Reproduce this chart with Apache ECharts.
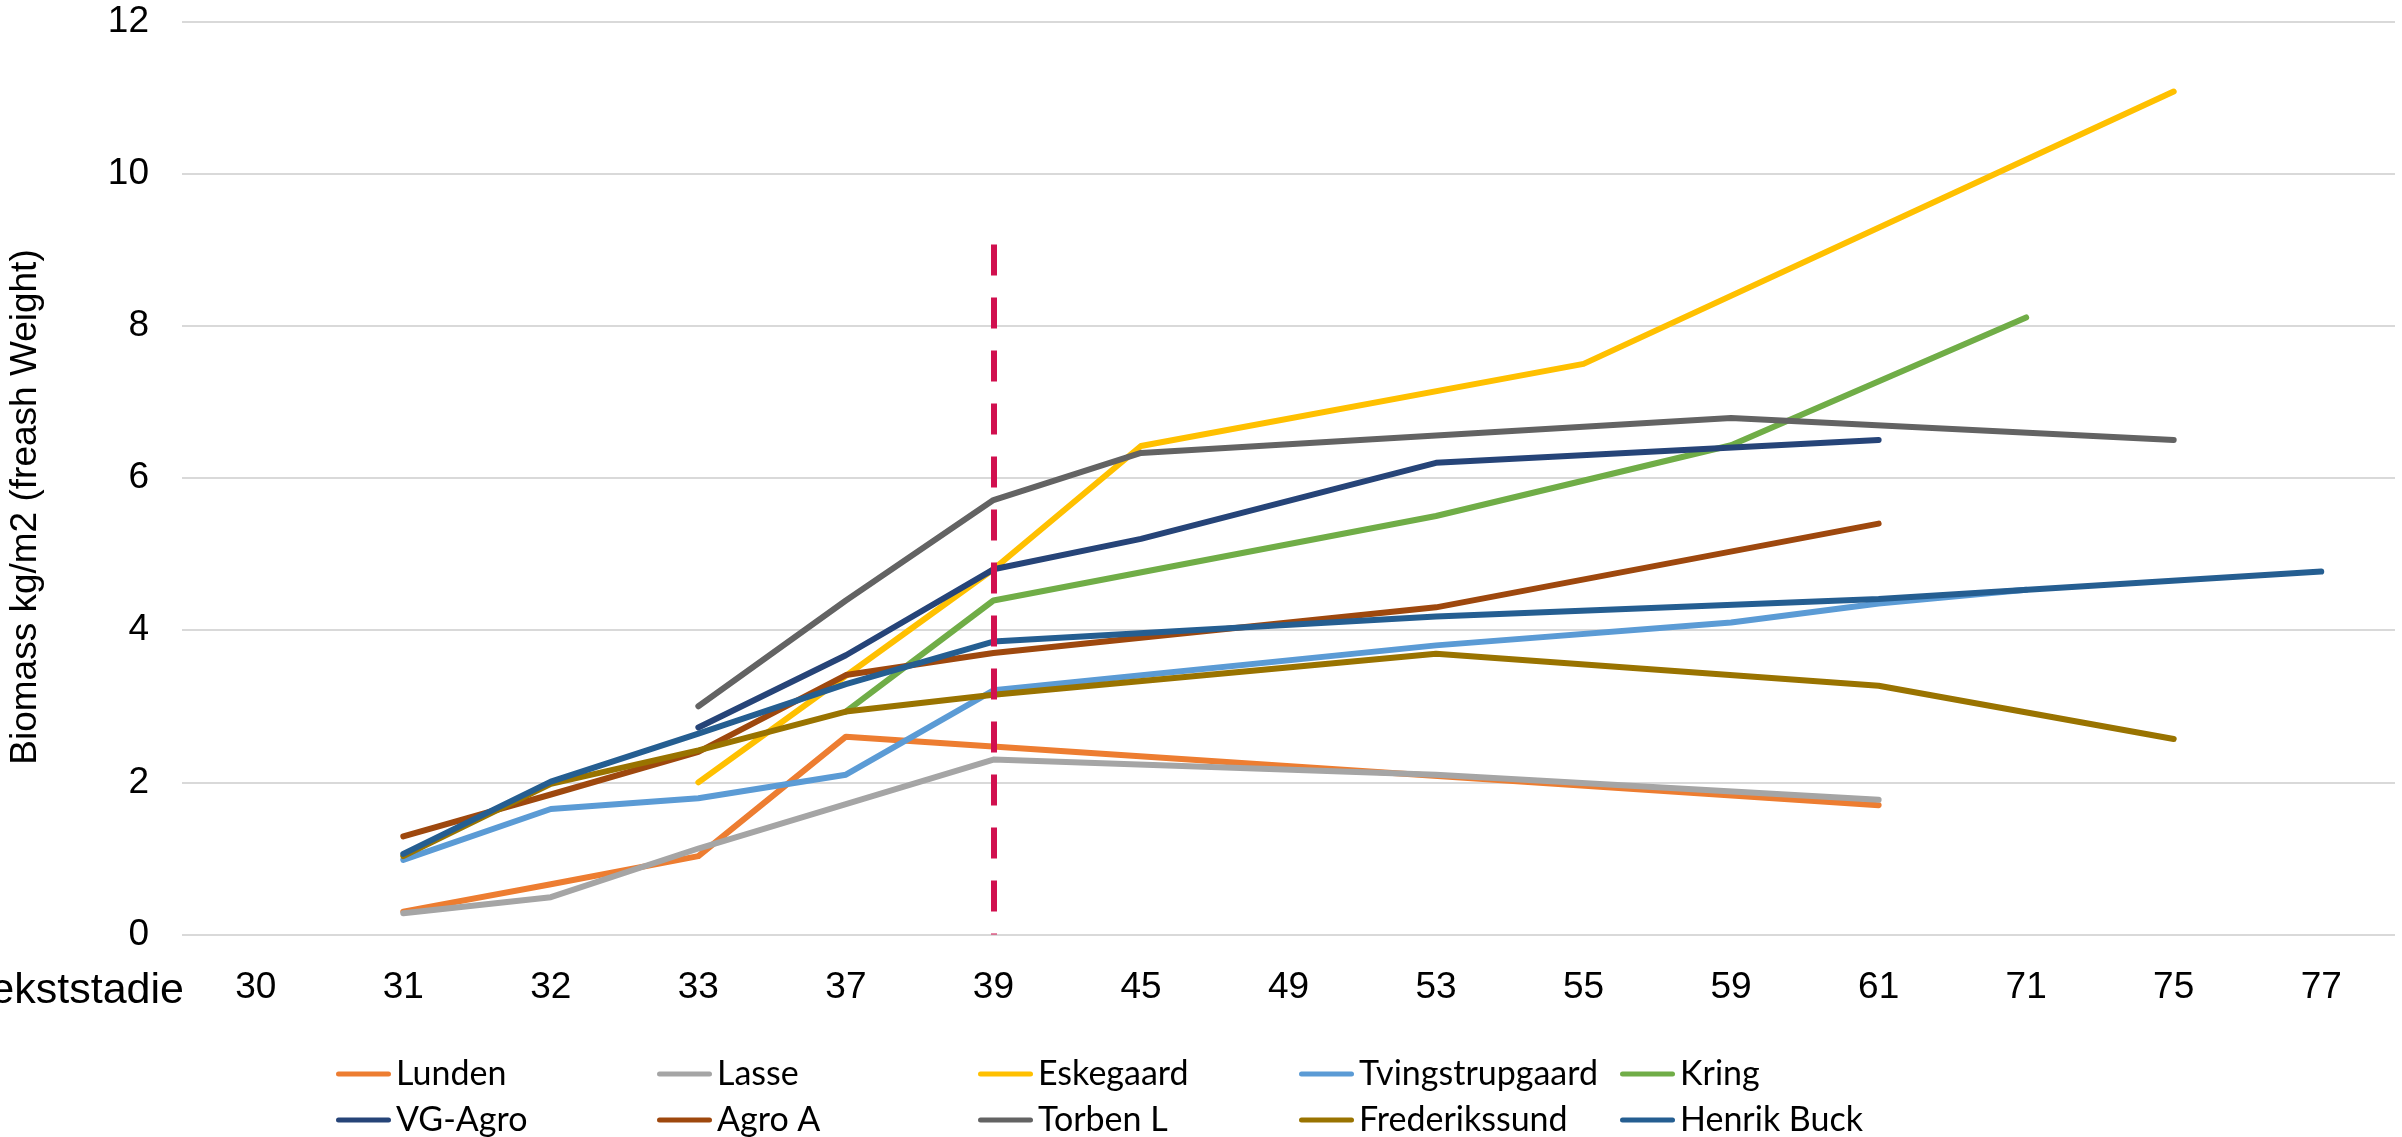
<!DOCTYPE html>
<html>
<head>
<meta charset="utf-8">
<script src="https://cdn.jsdelivr.net/npm/echarts@6/dist/echarts.min.js"></script>
<style>
html,body{margin:0;padding:0;background:#ffffff;}
#chart{width:2402px;height:1137px;}
</style>
</head>
<body>
<div id="chart"></div>
<script>
// ---- data ----
const stages = ['30','31','32','33','37','39','45','49','53','55','59','61','71','75','77'];
const yMin = 0, yMax = 12, yStep = 2;

const lunden          = [null,0.30,0.66,1.03,2.60,null,null,null,null,null,null,1.70,null,null,null];
const lasse           = [null,0.28,0.49,1.13,null,2.30,null,null,2.10,null,null,1.77,null,null,null];
const eskegaard       = [null,null,null,2.00,null,4.80,6.42,null,null,7.50,null,null,null,11.08,null];
const tvingstrupgaard = [null,0.98,1.65,1.79,2.10,3.21,null,null,3.80,null,4.10,4.35,4.53,null,null];
const kring           = [null,null,null,null,2.93,4.39,null,null,5.50,null,6.43,null,8.11,null,null];
const vgAgro          = [null,null,null,2.72,3.67,4.80,5.20,null,6.20,null,null,6.50,null,null,null];
const agroA           = [null,1.29,1.84,2.40,3.41,3.70,null,null,4.30,null,null,5.40,null,null,null];
const torbenL         = [null,null,null,3.00,4.39,5.71,6.33,null,null,null,6.79,null,null,6.50,null];
const frederikssund   = [null,1.03,1.98,2.42,2.93,3.15,null,null,3.69,null,null,3.27,null,2.57,null];
const henrikBuck      = [null,1.06,2.01,2.64,3.29,3.85,null,null,4.18,null,null,4.41,null,null,4.77];

const seriesNames = ['Lunden','Lasse','Eskegaard','Tvingstrupgaard','Kring','VG-Agro','Agro A','Torben L','Frederikssund','Henrik Buck'];
const seriesData  = [lunden,lasse,eskegaard,tvingstrupgaard,kring,vgAgro,agroA,torbenL,frederikssund,henrikBuck];
const seriesColors = ['#ED7D31','#A5A5A5','#FFC000','#5B9BD5','#70AD47','#264478','#9E480E','#636363','#997300','#255E91'];

// dashed reference line at growth stage 39
const refStage = '39';
const refTop = 9.07;
const refBottom = 0;

// ---- chart ----
const chart = echarts.init(document.getElementById('chart'), null, {renderer:'canvas'});
const refIdx = stages.indexOf(refStage);

const series = seriesNames.map((name, i) => {
  const s = {
    name: name,
    type: 'line',
    data: seriesData[i],
    connectNulls: true,
    symbol: 'none',
    showSymbol: false,
    color: seriesColors[i],
    lineStyle: {width: 6, color: seriesColors[i], cap: 'round', join: 'round'},
    emphasis: {disabled: true},
    z: 2 + i
  };
  if (i === seriesNames.length - 1) {
    s.markLine = {
      silent: true,
      symbol: ['none','none'],
      label: {show: false},
      z: 50,
      lineStyle: {color: '#D1104F', width: 6, type: [31, 22], cap: 'butt'},
      emphasis: {disabled: true},
      data: [[{coord: [refIdx, refTop]}, {coord: [refIdx, refBottom]}]]
    };
  }
  return s;
});

const capsule = 'path://M2.5,0H52.5A2.5,2.5,0,0,1,52.5,5H2.5A2.5,2.5,0,0,1,2.5,0Z';
const legendBase = {
  orient: 'horizontal',
  left: 336,
  padding: 0,
  icon: capsule,
  itemWidth: 55,
  itemHeight: 5,
  itemGap: 15,
  selectedMode: false,
  itemStyle: {borderWidth: 0},
  textStyle: {fontFamily: 'Lato', fontSize: 34, color: '#000000', width: 246, lineHeight: 40}
};

chart.setOption({
  animation: false,
  backgroundColor: '#ffffff',
  grid: {left: 182, right: 7, top: 21.5, bottom: 202.5, containLabel: false, outerBoundsMode: 'none'},
  xAxis: {
    type: 'category',
    data: stages,
    boundaryGap: true,
    name: 'Vækststadie',
    nameLocation: 'start',
    nameGap: -2,
    nameMoveOverlap: false,
    nameTextStyle: {fontFamily: 'Liberation Sans', fontSize: 43, color: '#000000', verticalAlign: 'top', lineHeight: 114},
    axisLine: {show: false},
    axisTick: {show: false},
    axisLabel: {interval: 0, margin: 35, fontFamily: 'Liberation Sans', fontSize: 37, color: '#000000'},
    splitLine: {show: false}
  },
  yAxis: {
    type: 'value',
    min: yMin, max: yMax, interval: yStep,
    name: 'Biomass kg/m2 (freash Weight)',
    nameLocation: 'middle',
    nameGap: 138,
    nameMoveOverlap: false,
    nameTextStyle: {fontFamily: 'Liberation Sans', fontSize: 37, color: '#000000', padding: [0, 58, 0, 0]},
    axisLine: {show: false},
    axisTick: {show: false},
    axisLabel: {margin: 33, fontFamily: 'Liberation Sans', fontSize: 37, color: '#000000'},
    splitLine: {show: true, lineStyle: {color: '#D9D9D9', width: 2}}
  },
  legend: [
    Object.assign({}, legendBase, {top: 1054, data: seriesNames.slice(0, 5)}),
    Object.assign({}, legendBase, {top: 1100, data: seriesNames.slice(5)})
  ],
  series: series
});
</script>
</body>
</html>
